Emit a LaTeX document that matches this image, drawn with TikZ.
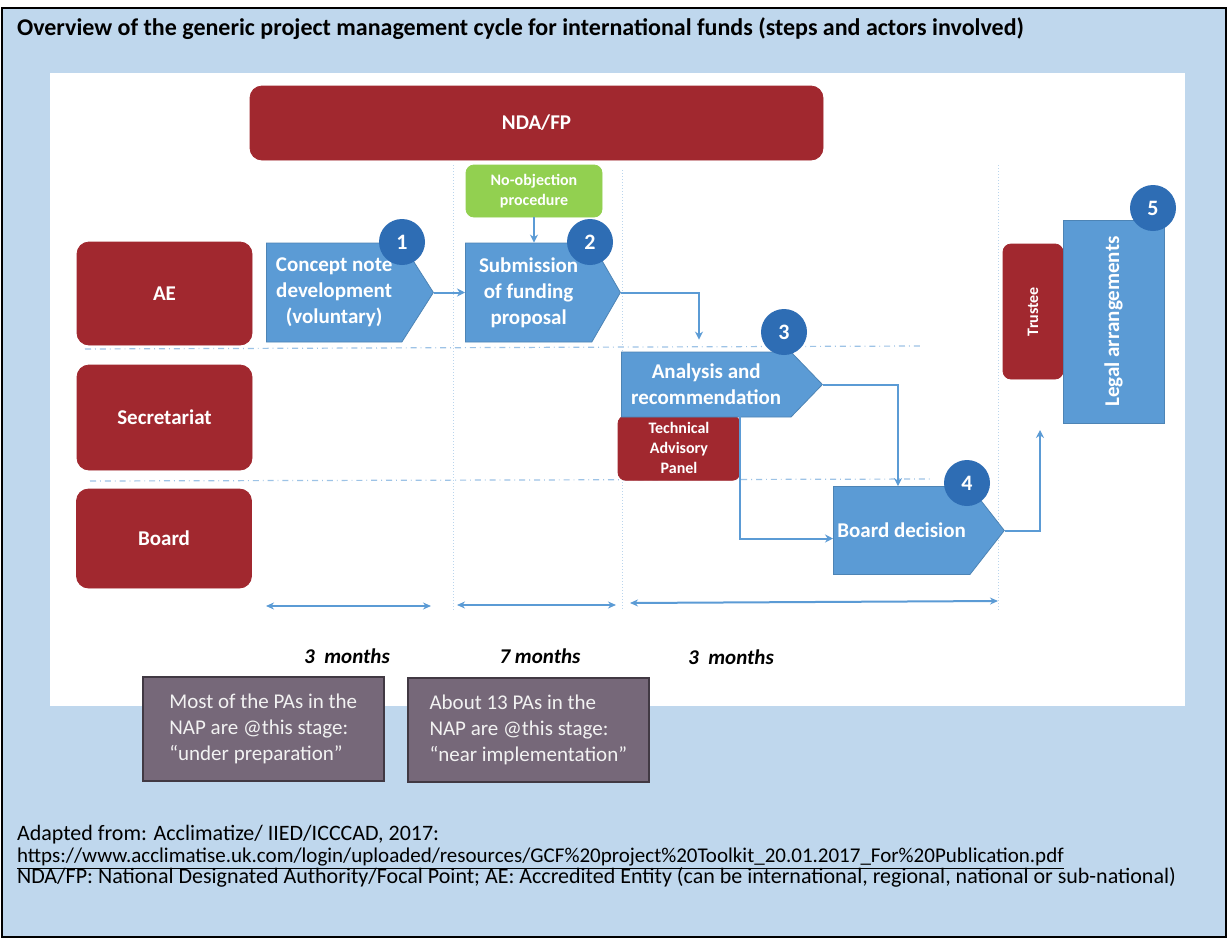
\documentclass[tikz,border=0pt]{standalone}
\usepackage{fontspec}
\setmainfont{Carlito}
\usetikzlibrary{shapes.symbols,arrows.meta}

\definecolor{actorred}{HTML}{A1282F}
\definecolor{stepblue}{HTML}{5B9BD5}
\definecolor{numblue}{HTML}{2E6DB4}
\definecolor{okgreen}{HTML}{92D050}
\definecolor{panelblue}{HTML}{BFD7ED}
\definecolor{notepurple}{HTML}{766879}
\definecolor{laneblue}{HTML}{9DC3E6}

\begin{document}
\begin{tikzpicture}[x=0.5pt,y=-0.5pt,
  actor/.style={draw=actorred,fill=actorred,rounded corners=6pt,text=white,
    font=\bfseries\fontsize{10.5}{12}\selectfont},
  smallactor/.style={actor,rounded corners=4pt,align=center,
    font=\bfseries\fontsize{8}{10}\selectfont},
  stepbox/.style={shape=signal,signal to=east,draw=stepblue!85!black,fill=stepblue,
    text=white,anchor=west,align=center,inner sep=2pt,
    font=\bfseries\fontsize{10.5}{13}\selectfont},
  num/.style={circle,fill=numblue,text=white,minimum size=23pt,inner sep=0pt,
    font=\bfseries\fontsize{11}{11}\selectfont},
  flow/.style={draw=stepblue,line width=1pt,-{Stealth[length=4pt,width=4pt]}},
  duration/.style={draw=stepblue,line width=1pt,
    {Stealth[length=4pt,width=3.5pt]}-{Stealth[length=4pt,width=3.5pt]}},
  lane/.style={draw=laneblue,dash dot,line width=0.6pt},
  stage/.style={draw=laneblue!70,densely dotted,line width=0.5pt},
  note/.style={draw=notepurple!55!black,line width=0.8pt,fill=notepurple,
    text=white!95!black,anchor=north west,align=left,
    minimum width=120.5pt,minimum height=52pt,
    font=\fontsize{10.5}{13}\selectfont},
  months/.style={font=\bfseries\itshape\fontsize{10.5}{12}\selectfont},
  footline/.style={anchor=base west,font=\fontsize{11}{13}\selectfont}
]
\useasboundingbox (0,0) rectangle (1228,938);
\draw[fill=panelblue,line width=0.75pt] (2,8) rectangle (1226,937);
\fill[white] (50,73) rectangle (1185,706);

\node[anchor=base west,font=\bfseries\fontsize{12}{14}\selectfont] (title) at (10,35)
  {Overview of the generic project management cycle for international funds (steps and actors involved)};

\draw[lane] (85,349) -- (920,346);
\draw[lane] (90,481) -- (930,479);
\draw[stage] (453,165) -- (453,610);
\draw[stage] (622,170) -- (622,610);
\draw[stage] (998,165) -- (998,610);

\node[actor,minimum width=286.5pt,minimum height=37pt] (nda) at (536.5,123) {NDA/FP};
\node[actor,minimum width=87.5pt,minimum height=51.5pt] (ae) at (164.5,293.5) {AE};
\node[actor,minimum width=87.5pt,minimum height=52.5pt] (secr) at (164.5,417.5) {Secretariat};
\node[actor,minimum width=87.5pt,minimum height=49.5pt] (board) at (164,538.5) {Board};

\node[smallactor,draw=okgreen,fill=okgreen,minimum width=68pt,minimum height=26pt] (noobj) at (534,191) {No-objection\\procedure};
\node[smallactor,minimum width=61pt,minimum height=30pt] (tap) at (679,448) {Technical\\Advisory\\Panel};
\node[smallactor,rotate=90,minimum width=67.5pt,minimum height=30pt] (trustee) at (1033,311.5) {Trustee};

\node[stepbox,signal pointer angle=115,minimum width=83.5pt,minimum height=49.5pt] (concept) at (266,292.5) {Concept note\\development\\(voluntary)};
\node[stepbox,signal pointer angle=120,minimum width=77.5pt,minimum height=49.5pt] (submit) at (465,292.5) {Submission\\of funding\\proposal};
\node[stepbox,signal pointer angle=92,minimum width=100.5pt,minimum height=32.5pt] (analysis) at (621,384.5) {Analysis and\\recommendation};
\node[stepbox,signal pointer angle=104,minimum width=85pt,minimum height=44pt] (decision) at (833,530.5) {Board decision};
\node[draw=stepblue!85!black,fill=stepblue,text=white,rotate=90,minimum width=101.5pt,minimum height=50.5pt,
  font=\bfseries\fontsize{10.5}{12}\selectfont] (legal) at (1113.5,321.5) {Legal arrangements};

\node[num] (n1) at (402,242) {1};
\node[num] (n2) at (590,242) {2};
\node[num] (n3) at (784,332) {3};
\node[num] (n4) at (967,483) {4};
\node[num] (n5) at (1153,208) {5};

\coordinate (bend1) at (699,292.5);
\coordinate (bend2) at (898,384.5);
\coordinate (legalin) at (1040,430);

\draw[flow] (concept.east) -- (submit.west);
\draw[flow] (noobj.south) -- (noobj.south |- submit.north);
\draw[flow,shorten >=6pt] (submit.east) -- (bend1) -- (bend1 |- analysis.north);
\draw[flow] (analysis.east) -- (bend2) -- (bend2 |- decision.north);
\draw[flow] (tap.north east) |- ([yshift=-4pt]decision.west);
\draw[flow] (decision.east) -| (legalin);

\draw[duration] (266,606) -- (431,606);
\draw[duration] (457,605) -- (616,605);
\draw[duration] (630,603) -- (998,601);

\node[months] (m1) at (347,656) {3~~months};
\node[months] (m2) at (540,656) {7 months};
\node[months] (m3) at (731,657) {3~~months};

\node[note] (prep) at (142,676) {Most of the PAs in the\\NAP are @this stage:\\“under preparation”};
\node[note] (impl) at (407,677) {About 13 PAs in the\\NAP are @this stage:\\“near implementation”};

\node[footline] (src) at (10,840) {Adapted from: Acclimatize/ IIED/ICCCAD, 2017:};
\node[footline,font=\fontsize{10.5}{13}\selectfont] (url) at (10,862) {\underline{https://www.acclimatise.uk.com/login/uploaded/resources/GCF\%20project\%20Toolkit\_20.01.2017\_For\%20Publication.pdf}};
\node[footline] (abbr) at (10,883) {NDA/FP: National Designated Authority/Focal Point; AE: Accredited Entity (can be international, regional, national or sub-national)};
\end{tikzpicture}
\end{document}
